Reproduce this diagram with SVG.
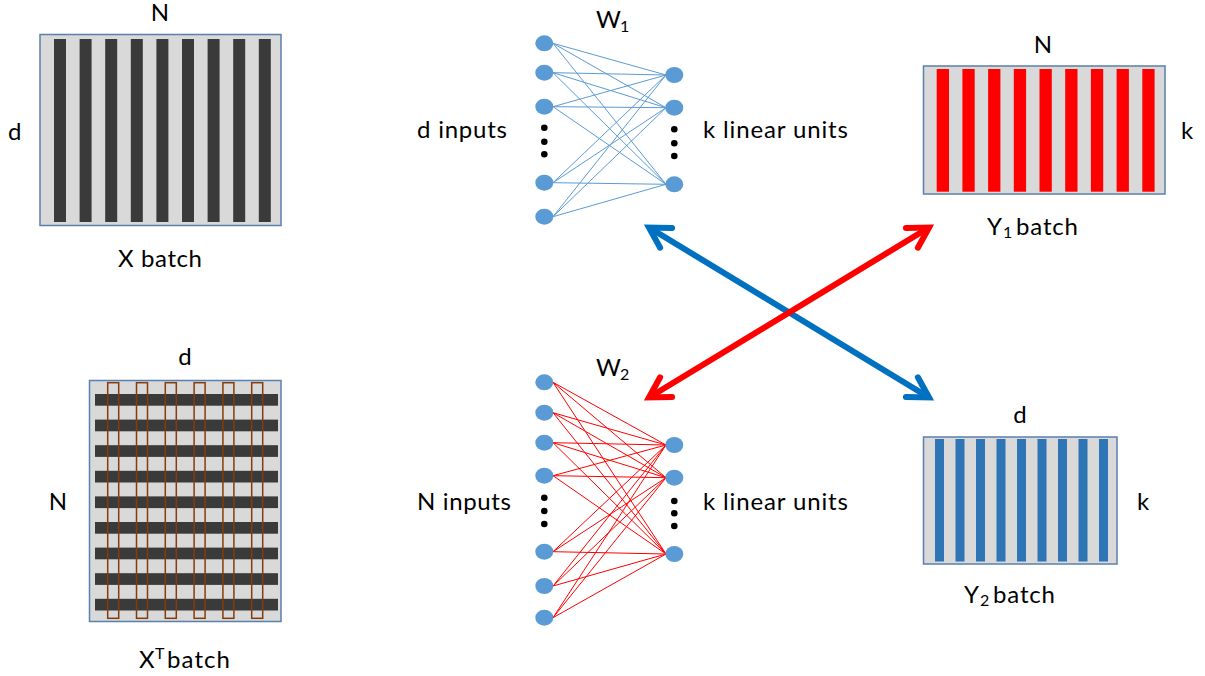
<svg xmlns="http://www.w3.org/2000/svg" width="1205" height="676" viewBox="0 0 1205 676">
<defs>
<style>
text{font-family:Lato,"Liberation Sans",sans-serif;font-size:24px;fill:#000}
.sub{font-size:16px}
.mat{fill:#d9d9d9;stroke:#5a80ad;stroke-width:1.5}
.dk{fill:#3a3a3a}
.rd{fill:#ff0000}
.bl{fill:#2e75b6}
.tr{fill:none;stroke:#843c0c;stroke-width:1.5}
.nd{fill:#5b9bd5}
.dot{fill:#000}
.e1{stroke:#5b9bd5;stroke-width:1}
.e2{stroke:#ff0000;stroke-width:1}
</style>
<marker id="hb" markerUnits="userSpaceOnUse" markerWidth="40" markerHeight="40" viewBox="-30 -20 40 40" refX="0" refY="0" orient="auto-start-reverse" overflow="visible">
<path d="M-20,-11.5 L0,0 L-20,11.5" fill="none" stroke="#0070c0" stroke-width="6" stroke-linecap="round"/>
</marker>
<marker id="hr" markerUnits="userSpaceOnUse" markerWidth="40" markerHeight="40" viewBox="-30 -20 40 40" refX="0" refY="0" orient="auto-start-reverse" overflow="visible">
<path d="M-20,-11.5 L0,0 L-20,11.5" fill="none" stroke="#ff0000" stroke-width="6" stroke-linecap="round"/>
</marker>
</defs>

<g id="x-batch">
<rect class="mat" x="40" y="34.5" width="241" height="191"/>
<g class="dk">
<rect x="54" y="39" width="12" height="183"/>
<rect x="79.6" y="39" width="12" height="183"/>
<rect x="105.2" y="39" width="12" height="183"/>
<rect x="130.8" y="39" width="12" height="183"/>
<rect x="156.4" y="39" width="12" height="183"/>
<rect x="182" y="39" width="12" height="183"/>
<rect x="207.6" y="39" width="12" height="183"/>
<rect x="233.2" y="39" width="12" height="183"/>
<rect x="258.8" y="39" width="12" height="183"/>
</g>
<text x="160" y="21" text-anchor="middle">N</text>
<text x="8" y="140">d</text>
<text x="118" y="267" textLength="84">X batch</text>
</g>

<g id="xt-batch">
<rect class="mat" x="89.5" y="380.5" width="191.5" height="241"/>
<g class="dk">
<rect x="95" y="394" width="183" height="11.7"/>
<rect x="95" y="419.6" width="183" height="11.7"/>
<rect x="95" y="445.2" width="183" height="11.7"/>
<rect x="95" y="470.8" width="183" height="11.7"/>
<rect x="95" y="496.4" width="183" height="11.7"/>
<rect x="95" y="522" width="183" height="11.7"/>
<rect x="95" y="547.6" width="183" height="11.7"/>
<rect x="95" y="573.2" width="183" height="11.7"/>
<rect x="95" y="598.8" width="183" height="11.7"/>
</g>
<g class="tr">
<rect x="107.7" y="382.7" width="11" height="235.6"/>
<rect x="136.5" y="382.7" width="11" height="235.6"/>
<rect x="165.3" y="382.7" width="11" height="235.6"/>
<rect x="194.1" y="382.7" width="11" height="235.6"/>
<rect x="222.9" y="382.7" width="11" height="235.6"/>
<rect x="251.7" y="382.7" width="11" height="235.6"/>
</g>
<text x="185" y="365" text-anchor="middle">d</text>
<text x="58" y="510" text-anchor="middle">N</text>
<text x="139" y="668">X</text>
<text x="155" y="659" class="sub">T</text>
<text x="167" y="668" textLength="63">batch</text>
</g>

<g id="connectors">
<g class="e1">
<line x1="553" y1="43.3" x2="666" y2="75"/><line x1="553" y1="43.3" x2="666" y2="107.7"/><line x1="553" y1="43.3" x2="666" y2="184.3"/>
<line x1="553" y1="72.7" x2="666" y2="75"/><line x1="553" y1="72.7" x2="666" y2="107.7"/><line x1="553" y1="72.7" x2="666" y2="184.3"/>
<line x1="553" y1="106.7" x2="666" y2="75"/><line x1="553" y1="106.7" x2="666" y2="107.7"/><line x1="553" y1="106.7" x2="666" y2="184.3"/>
<line x1="553" y1="182.7" x2="666" y2="75"/><line x1="553" y1="182.7" x2="666" y2="107.7"/><line x1="553" y1="182.7" x2="666" y2="184.3"/>
<line x1="553" y1="216.7" x2="666" y2="75"/><line x1="553" y1="216.7" x2="666" y2="107.7"/><line x1="553" y1="216.7" x2="666" y2="184.3"/>
</g>
<g class="e2">
<line x1="553" y1="382.3" x2="666" y2="445"/><line x1="553" y1="382.3" x2="666" y2="477.7"/><line x1="553" y1="382.3" x2="666" y2="554"/>
<line x1="553" y1="412.7" x2="666" y2="445"/><line x1="553" y1="412.7" x2="666" y2="477.7"/><line x1="553" y1="412.7" x2="666" y2="554"/>
<line x1="553" y1="442.7" x2="666" y2="445"/><line x1="553" y1="442.7" x2="666" y2="477.7"/><line x1="553" y1="442.7" x2="666" y2="554"/>
<line x1="553" y1="475.7" x2="666" y2="445"/><line x1="553" y1="475.7" x2="666" y2="477.7"/><line x1="553" y1="475.7" x2="666" y2="554"/>
<line x1="553" y1="551.7" x2="666" y2="445"/><line x1="553" y1="551.7" x2="666" y2="477.7"/><line x1="553" y1="551.7" x2="666" y2="554"/>
<line x1="553" y1="586" x2="666" y2="445"/><line x1="553" y1="586" x2="666" y2="477.7"/><line x1="553" y1="586" x2="666" y2="554"/>
<line x1="553" y1="617.7" x2="666" y2="445"/><line x1="553" y1="617.7" x2="666" y2="477.7"/><line x1="553" y1="617.7" x2="666" y2="554"/>
</g>
<line x1="649" y1="227.5" x2="929" y2="397.5" stroke="#0070c0" stroke-width="6" marker-start="url(#hb)" marker-end="url(#hb)"/>
<line x1="649" y1="397.5" x2="929" y2="227.5" stroke="#ff0000" stroke-width="6" marker-start="url(#hr)" marker-end="url(#hr)"/>
</g>

<g id="net1">
<g class="nd">
<ellipse cx="544.3" cy="43.3" rx="9" ry="8"/>
<ellipse cx="544.3" cy="72.7" rx="9" ry="8"/>
<ellipse cx="544.3" cy="106.7" rx="9" ry="8"/>
<ellipse cx="544.3" cy="182.7" rx="9" ry="8"/>
<ellipse cx="544.3" cy="216.7" rx="9" ry="8"/>
<ellipse cx="674.3" cy="75" rx="9" ry="8"/>
<ellipse cx="674.3" cy="107.7" rx="9" ry="8"/>
<ellipse cx="674.3" cy="184.3" rx="9" ry="8"/>
</g>
<g class="dot">
<circle cx="544.3" cy="127.7" r="3.3"/><circle cx="544.3" cy="141.7" r="3.3"/><circle cx="544.3" cy="154.3" r="3.3"/>
<circle cx="674.3" cy="129.3" r="3.3"/><circle cx="674.3" cy="143.3" r="3.3"/><circle cx="674.3" cy="156" r="3.3"/>
</g>
<text x="596" y="28" textLength="20">W</text><text x="620" y="32" class="sub">1</text>
<text x="417" y="138" textLength="90">d inputs</text>
<text x="703" y="138" textLength="145">k linear units</text>
</g>

<g id="net2">
<g class="nd">
<ellipse cx="544.3" cy="382.3" rx="9" ry="8"/>
<ellipse cx="544.3" cy="412.7" rx="9" ry="8"/>
<ellipse cx="544.3" cy="442.7" rx="9" ry="8"/>
<ellipse cx="544.3" cy="475.7" rx="9" ry="8"/>
<ellipse cx="544.3" cy="551.7" rx="9" ry="8"/>
<ellipse cx="544.3" cy="586" rx="9" ry="8"/>
<ellipse cx="544.3" cy="617.7" rx="9" ry="8"/>
<ellipse cx="674.3" cy="445" rx="9" ry="8"/>
<ellipse cx="674.3" cy="477.7" rx="9" ry="8"/>
<ellipse cx="674.3" cy="554" rx="9" ry="8"/>
</g>
<g class="dot">
<circle cx="544.3" cy="497.7" r="3.3"/><circle cx="544.3" cy="511" r="3.3"/><circle cx="544.3" cy="524" r="3.3"/>
<circle cx="674.3" cy="501" r="3.3"/><circle cx="674.3" cy="513.3" r="3.3"/><circle cx="674.3" cy="526" r="3.3"/>
</g>
<text x="596" y="376" textLength="20">W</text><text x="620" y="380" class="sub">2</text>
<text x="417" y="510" textLength="94">N inputs</text>
<text x="703" y="510" textLength="145">k linear units</text>
</g>

<g id="y1-batch">
<rect class="mat" x="923.5" y="66" width="241.5" height="128"/>
<g class="rd">
<rect x="936.7" y="69" width="12.3" height="122.7"/>
<rect x="962.4" y="69" width="12.3" height="122.7"/>
<rect x="988.1" y="69" width="12.3" height="122.7"/>
<rect x="1013.8" y="69" width="12.3" height="122.7"/>
<rect x="1039.5" y="69" width="12.3" height="122.7"/>
<rect x="1065.2" y="69" width="12.3" height="122.7"/>
<rect x="1090.9" y="69" width="12.3" height="122.7"/>
<rect x="1116.6" y="69" width="12.3" height="122.7"/>
<rect x="1142.3" y="69" width="12.3" height="122.7"/>
</g>
<text x="1043" y="53" text-anchor="middle">N</text>
<text x="1181" y="139">k</text>
<text x="987" y="235">Y</text><text x="1003" y="238" class="sub">1</text>
<text x="1016" y="235" textLength="62">batch</text>
</g>

<g id="y2-batch">
<rect class="mat" x="923.5" y="437" width="193.5" height="127"/>
<g class="bl">
<rect x="935" y="439" width="9" height="122.5"/>
<rect x="955.5" y="439" width="9" height="122.5"/>
<rect x="976" y="439" width="9" height="122.5"/>
<rect x="996.5" y="439" width="9" height="122.5"/>
<rect x="1017" y="439" width="9" height="122.5"/>
<rect x="1037.5" y="439" width="9" height="122.5"/>
<rect x="1058" y="439" width="9" height="122.5"/>
<rect x="1078.5" y="439" width="9" height="122.5"/>
<rect x="1099" y="439" width="9" height="122.5"/>
</g>
<text x="1020" y="423" text-anchor="middle">d</text>
<text x="1137" y="510">k</text>
<text x="964" y="603">Y</text><text x="980" y="606" class="sub">2</text>
<text x="993" y="603" textLength="62">batch</text>
</g>
</svg>
